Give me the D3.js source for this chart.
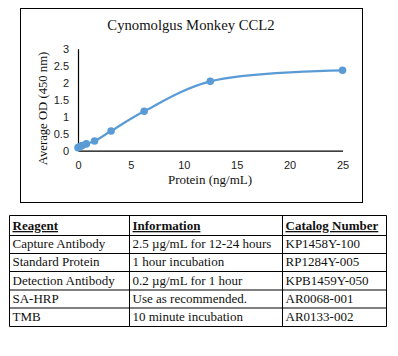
<!DOCTYPE html>
<html><head><meta charset="utf-8">
<script src="https://cdn.jsdelivr.net/npm/d3@7"></script>
<style>html,body{margin:0;padding:0;background:#fff;}svg{display:block;}</style>
</head><body>
<svg id="c" width="398" height="356"></svg>
<script>
const protein = [0, 0.1953, 0.3906, 0.78125, 1.5625, 3.125, 6.25, 12.5, 25];
const avgOD = [0.09, 0.12, 0.15, 0.2, 0.285, 0.58, 1.16, 2.04, 2.365];
const xTicks = [0, 5, 10, 15, 20, 25];
const yTicks = [0, 0.5, 1, 1.5, 2, 2.5, 3];
const chartTitle = "Cynomolgus Monkey CCL2";
const xTitle = "Protein (ng/mL)";
const yTitle = "Average OD (450 nm)";
const tableHeader = ["Reagent", "Information", "Catalog Number"];
const reagents = ["Capture Antibody", "Standard Protein", "Detection Antibody", "SA-HRP", "TMB"];
const information = ["2.5 µg/mL for 12-24 hours", "1 hour incubation", "0.2 µg/mL for 1 hour", "Use as recommended.", "10 minute incubation"];
const catalog = ["KP1458Y-100", "RP1284Y-005", "KPB1459Y-050", "AR0068-001", "AR0133-002"];

const svg = d3.select("#c");
svg.append("rect").attr("width",398).attr("height",356).attr("fill","#fff");
const serif = "'Liberation Serif', serif";
const sans = "'Liberation Sans', Arial, sans-serif";

// chart frame
svg.append("rect").attr("x",20.5).attr("y",8.5).attr("width",342).attr("height",194)
  .attr("fill","#fff").attr("stroke","#000").attr("stroke-width",1);

const x = d3.scaleLinear().domain([0,25]).range([78,342.5]);
const y = d3.scaleLinear().domain([0,3]).range([150.7,48.7]);

svg.append("text").attr("x",191).attr("y",29.5).attr("text-anchor","middle")
  .attr("font-family",serif).attr("font-size",14.7).attr("fill","#111").text(chartTitle);

// axes
const gx = svg.append("g").attr("transform",`translate(0,${y(0)})`)
  .call(d3.axisBottom(x).tickValues(xTicks).tickSize(0).tickPadding(11).tickFormat(d3.format("")));
const gy = svg.append("g").attr("transform",`translate(${x(0)},0)`)
  .call(d3.axisLeft(y).tickValues(yTicks).tickSize(0).tickPadding(9).tickFormat(d=>String(d)));
[gx,gy].forEach(g=>{
  g.select(".domain").attr("stroke","#000").attr("stroke-width",1.2);
  g.selectAll("text").attr("font-family",sans).attr("font-size",11).attr("fill","#222");
});

svg.append("text").attr("x",210).attr("y",183.5).attr("text-anchor","middle")
  .attr("font-family",serif).attr("font-size",13).attr("fill","#111").text(xTitle);
svg.append("text").attr("transform","translate(47,108.5) rotate(-90)").attr("text-anchor","middle")
  .attr("font-family",serif).attr("font-size",12.7).attr("fill","#111").text(yTitle);

const pts = protein.map((p,i)=>[p, avgOD[i]]);
const line = d3.line().x(d=>x(d[0])).y(d=>y(d[1])).curve(d3.curveCatmullRom.alpha(0.5));
svg.append("path").datum(pts).attr("d",line).attr("fill","none")
  .attr("stroke","#5B9BD5").attr("stroke-width",2.25);
svg.selectAll("circle.pt").data(pts).enter().append("circle").attr("class","pt")
  .attr("cx",d=>x(d[0])).attr("cy",d=>y(d[1])).attr("r",3.8).attr("fill","#5B9BD5");

// table
const colX = [9.5, 129.5, 282.5, 386.5];
const rowY = [215.5, 235.5, 253.5, 271.5, 290, 308, 326.5];
const tbl = svg.append("g");
rowY.forEach(ry=>tbl.append("line").attr("x1",colX[0]).attr("x2",colX[3]).attr("y1",ry).attr("y2",ry).attr("stroke","#000"));
colX.forEach(cx=>tbl.append("line").attr("x1",cx).attr("x2",cx).attr("y1",rowY[0]).attr("y2",rowY[rowY.length-1]).attr("stroke","#000"));
const rows = [tableHeader].concat(reagents.map((r,i)=>[r, information[i], catalog[i]]));
rows.forEach((row,ri)=>{
  row.forEach((cell,ci)=>{
    const t = tbl.append("text").attr("x",colX[ci]+3).attr("y",rowY[ri+1]-5.5)
      .attr("font-family",serif).attr("font-size",13).attr("fill","#111").text(cell);
    if(ri===0){
      t.attr("font-weight","bold").attr("text-decoration","underline");
    }
  });
});
</script>
</body></html>
